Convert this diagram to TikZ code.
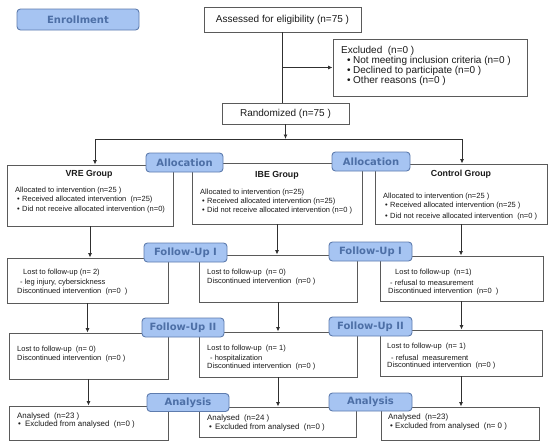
\documentclass[tikz,border=0pt]{standalone}
\usepackage{fontspec}
\setmainfont{Liberation Sans}
\newfontfamily\labfam{DejaVu Sans}
\usetikzlibrary{arrows.meta}
\definecolor{labfill}{HTML}{A6C4F2}
\definecolor{labdraw}{HTML}{5E7CAE}
\definecolor{labtext}{HTML}{4D6FA6}
\definecolor{boxdraw}{HTML}{5A5A5A}
\definecolor{linecol}{HTML}{303030}
\definecolor{txtcol}{HTML}{1A1A1A}
\newcommand\mybul[1][5pt]{\makebox[#1][l]{\textbullet}}
\begin{document}
\begin{tikzpicture}[x=1pt,y=-1pt,
  box/.style={draw=boxdraw, line width=0.9pt, inner sep=0pt},
  lab/.style={draw=labdraw, fill=labfill, rounded corners=3.5pt, line width=0.9pt,
    font=\labfam\bfseries\fontsize{10}{12}\selectfont, text=labtext,
    minimum height=19pt, minimum width=82pt, inner sep=0pt},
  big/.style={font=\fontsize{10}{12}\selectfont, text=txtcol},
  bigl/.style={anchor=west, inner sep=0pt, font=\fontsize{10}{12}\selectfont, text=txtcol},
  ttl/.style={inner sep=0pt, font=\bfseries\fontsize{8.8}{10}\selectfont, text=txtcol},
  sm/.style={anchor=west, inner sep=0pt, font=\fontsize{7.5}{9}\selectfont, text=txtcol},
  sma/.style={anchor=west, inner sep=0pt, font=\fontsize{7.9}{9}\selectfont, text=txtcol},
  conn/.style={draw=linecol, line width=0.9pt},
  arr/.style={draw=linecol, line width=0.9pt, -{Latex[length=4.5pt,width=4pt]}}]
\fill[white] (0,0) rectangle (550,447);
\useasboundingbox (0,0) rectangle (550,447);

% ---------- boxes ----------
\node[box, big, minimum width=157pt, minimum height=25pt] (assess) at (282.5,19.5) {Assessed for eligibility (n=75 )};
\node[box, minimum width=194pt, minimum height=57pt] (excl) at (430,67.5) {};
\node[box, big, minimum width=127pt, minimum height=21pt] (rand) at (285.5,113.5) {Randomized (n=75 )};

\node[box, minimum width=166pt, minimum height=61pt] (vre) at (90,195.5) {};
\node[box, minimum width=170pt, minimum height=61pt] (ibe) at (277,193.5) {};
\node[box, minimum width=172pt, minimum height=60pt] (ctl) at (461,194) {};

\node[box, minimum width=161pt, minimum height=45pt] (vre1) at (87.5,280.5) {};
\node[box, minimum width=158pt, minimum height=47pt] (ibe1) at (278,278.5) {};
\node[box, minimum width=163pt, minimum height=45pt] (ctl1) at (461.5,278.5) {};

\node[box, minimum width=159pt, minimum height=46pt] (vre2) at (88.5,356) {};
\node[box, minimum width=158pt, minimum height=45pt] (ibe2) at (278,354.5) {};
\node[box, minimum width=162pt, minimum height=46pt] (ctl2) at (461,353) {};

\node[box, minimum width=159pt, minimum height=34pt] (vre3) at (88.5,423) {};
\node[box, minimum width=157pt, minimum height=30pt] (ibe3) at (277.5,422) {};
\node[box, minimum width=158pt, minimum height=33pt] (ctl3) at (460,423.5) {};

% ---------- texts ----------
\node[bigl] (ex0) at (341,51) {Excluded\ \ (n=0 )};
\node[bigl] (ex1) at (347,61) {\mybul[6pt]Not meeting inclusion criteria (n=0 )};
\node[bigl] (ex2) at (347,71) {\mybul[6pt]Declined to participate (n=0 )};
\node[bigl] (ex3) at (347,81) {\mybul[6pt]Other reasons (n=0 )};

\node[ttl] (vret) at (89,174) {VRE Group};
\node[sm] (vre-a) at (15,191) {Allocated to intervention (n=25 )};
\node[sm] (vre-b) at (17,199.5) {\mybul Received allocated intervention\ \ (n=25)};
\node[sm] (vre-c) at (17,210) {\mybul Did not receive allocated intervention (n=0)};

\node[ttl] (ibet) at (277,175) {IBE Group};
\node[sm] (ibe-a) at (200,193) {Allocated to intervention (n=25)};
\node[sm] (ibe-b) at (202,202) {\mybul Received allocated intervention (n=25)};
\node[sm] (ibe-c) at (202,211) {\mybul Did not receive allocated intervention (n=0 )};

\node[ttl] (ctlt) at (461,174) {Control Group};
\node[sm] (ctl-a) at (383,197) {Allocated to intervention (n=25 )};
\node[sm] (ctl-b) at (385,205.5) {\mybul Received allocated intervention (n=25 )};
\node[sm] (ctl-c) at (385,217) {\mybul Did not receive allocated intervention\ \ (n=0 )};

\node[sm] (vre1-a) at (23,273) {Lost to follow-up (n= 2)};
\node[sm] (vre1-b) at (20,283) {- leg injury, cybersickness};
\node[sm] (vre1-c) at (17,292) {Discontinued intervention\ \ (n=0\ \ )};

\node[sm] (ibe1-a) at (207,273) {Lost to follow-up\ \ (n= 0)};
\node[sm] (ibe1-b) at (207,282) {Discontinued intervention\ \ (n=0 )};

\node[sm] (ctl1-a) at (395,273) {Lost to follow-up\ \ (n=1)};
\node[sm] (ctl1-b) at (390,283) {- refusal to measurement};
\node[sm] (ctl1-c) at (388,292) {Discontinued intervention\ \ (n=0\ \ )};

\node[sm] (vre2-a) at (17,350) {Lost to follow-up\ \ (n= 0)};
\node[sm] (vre2-b) at (17,358.5) {Discontinued intervention\ \ (n=0 )};

\node[sm] (ibe2-a) at (207,349) {Lost to follow-up\ \ (n= 1)};
\node[sm] (ibe2-b) at (210,359) {- hospitalization};
\node[sm] (ibe2-c) at (207,367) {Discontinued intervention\ \ (n=0 )};

\node[sm] (ctl2-a) at (387,347) {Lost to follow-up\ \ (n= 1)};
\node[sm] (ctl2-b) at (391,358) {- refusal\ \ measurement};
\node[sm] (ctl2-c) at (387,366) {Discontinued intervention\ \ (n=0 )};

\node[sma] (vre3-a) at (17,416) {Analysed\ \ (n=23 )};
\node[sma] (vre3-b) at (18,424.5) {\mybul[7pt]Excluded from analysed\ \ (n=0 )};

\node[sma] (ibe3-a) at (207,418) {Analysed\ \ (n=24 )};
\node[sma] (ibe3-b) at (209,427) {\mybul[6pt]Excluded from analysed\ \ (n=0 )};

\node[sma] (ctl3-a) at (388,417) {Analysed\ \ (n=23)};
\node[sma] (ctl3-b) at (390,426) {\mybul Excluded from analysed\ \ (n= 0 )};

% ---------- connectors ----------
\coordinate (jx) at (assess.south |- excl.west);
\draw[conn] (assess.south) -- (assess.south |- rand.north);
\draw[arr] (jx) -- (excl.west);

\coordinate (hl) at (95,139);
\coordinate (hr) at (462,139);
\draw[arr] (rand.south) -- (rand.south |- hl);
\draw[conn] (hl) -- (hr);
\draw[arr] (hl) -- (hl |- vre.north);
\draw[arr] (hr) -- (hr |- ctl.north);

\draw[arr] (vre.south) -- (vre.south |- vre1.north);
\draw[arr] (ibe.south) -- (ibe.south |- ibe1.north);
\draw[arr] (ctl.south) -- (ctl.south |- ctl1.north);

\draw[arr] (vre1.south) -- (vre1.south |- vre2.north);
\draw[arr] (ibe1.south) -- (ibe1.south |- ibe2.north);
\draw[arr] (ctl1.south) -- (ctl1.south |- ctl2.north);

\draw[arr] (vre2.south) -- (vre2.south |- vre3.north);
\draw[arr] (ibe2.south) -- (ibe2.south |- ibe3.north);
\draw[arr] (ctl2.south) -- (ctl2.south |- ctl3.north);

% ---------- phase labels ----------
\node[lab, minimum width=122pt, minimum height=21pt] (enr) at (78,19.5) {Enrollment};
\node[lab, minimum width=77pt] (alloc1) at (184.5,162.5) {Allocation};
\node[lab, minimum width=78pt] (alloc2) at (371,161.5) {Allocation};
\node[lab, minimum width=83pt] (fu1a) at (185.5,252.5) {Follow-Up I};
\node[lab, minimum width=83pt] (fu1b) at (370.5,251.5) {Follow-Up I};
\node[lab] (fu2a) at (183,327.5) {Follow-Up II};
\node[lab, minimum width=83pt] (fu2b) at (370.5,326.5) {Follow-Up II};
\node[lab, minimum height=18pt] (ana1) at (188,402.5) {Analysis};
\node[lab, minimum width=83pt, minimum height=18pt] (ana2) at (370.5,402) {Analysis};
\end{tikzpicture}
\end{document}
